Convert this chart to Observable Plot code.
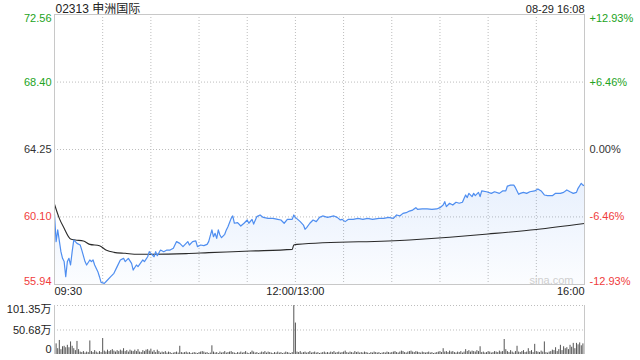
<!DOCTYPE html>
<html><head><meta charset="utf-8">
<script src="https://cdn.jsdelivr.net/npm/d3@7"></script>
<script src="https://cdn.jsdelivr.net/npm/@observablehq/plot@0.6"></script>
<style>
html,body{margin:0;padding:0;background:#fff;}
#wrap{position:relative;width:640px;height:360px;overflow:hidden;}
#wrap svg{position:absolute;left:0;}
</style></head><body><div id="wrap"></div>
<script>
const stockTitle = "02313 申洲国际";
const stamp = "08-29 16:08";
const prevClose = 64.25;
const priceTicks = [72.56, 68.40, 64.25, 60.10, 55.94];
const pctLabels = ["+12.93%", "+6.46%", "0.00%", "-6.46%", "-12.93%"];
const gridTimes = [30, 60, 90, 120, 150, 180, 210, 240, 270, 300];
const timeTicks = [0, 150, 330];
const timeLabels = ["09:30", "12:00/13:00", "16:00"];
const volTicks = [101.35, 50.68, 0];
const volLabels = ["101.35万", "50.68万", "0"];

// minutes since 09:30 (trading minutes; 150 = 12:00/13:00, 330 = 16:00)
const priceT = [0,1,2,4,5,6,7,8,9,10,11,12,13,14,16,17,19,20,22,23,24,25,27,28,29,31,32,35,37,39,41,43,44,46,48,49,51,52,55,56,58,59,60,62,63,64,66,68,70,72,74,76,78,80,83,84,86,88,89,91,93,95,96,98,99,100,101,102,103,104,106,107,108,110,111,112,114,116,118,120,121,123,124,126,128,130,133,136,139,141,143,145,148,149,150,
153,155,156,157,159,161,163,165,167,170,174,176,178,179,181,183,186,189,192,195,198,202,205,208,211,213,215,217,219,221,223,225,226,229,232,235,238,240,242,243,244,246,248,250,252,254,255,256,257,258,260,261,262,264,265,266,269,272,274,277,279,281,282,284,286,287,289,290,292,294,296,299,301,303,305,307,310,312,315,317,319,321,323,325,326,328,329,330];
const priceV = [60.26,58.58,59.30,57.96,57.55,57.35,56.42,57.35,57.55,57.14,57.96,58.68,58.58,58.47,58.37,58.06,57.35,57.14,57.45,57.35,57.45,57.14,56.73,56.42,56.07,56.01,56.11,56.42,56.63,57.04,57.45,57.55,57.35,57.55,57.24,56.83,57.14,57.04,57.45,57.35,57.65,57.96,57.86,57.65,57.96,57.71,58.06,57.96,58.06,58.06,58.17,58.58,58.47,58.27,58.58,58.37,58.58,58.62,58.27,58.37,58.33,58.41,58.58,59.30,58.88,59.09,58.78,59.30,58.99,58.82,59.03,59.30,59.50,60.01,60.16,59.71,59.75,59.54,59.71,59.91,59.71,59.95,59.66,60.12,60.22,60.07,60.01,60.01,59.95,59.91,59.71,59.95,59.95,60.22,60.07,
59.81,59.60,59.34,59.44,59.71,59.91,59.81,60.07,60.16,60.07,60.16,60.07,59.91,59.95,59.81,59.95,59.95,60.01,59.95,60.01,59.95,60.01,60.01,60.07,60.01,60.22,60.16,60.32,60.36,60.46,60.52,60.67,60.57,60.59,60.59,60.57,60.59,60.67,60.83,61.04,60.73,60.94,60.83,61.00,60.94,61.00,61.24,61.45,61.29,61.55,61.35,61.55,61.41,61.61,61.35,61.70,61.65,61.55,61.65,61.55,61.70,61.70,62.00,62.06,62.06,61.90,61.49,61.55,61.61,61.55,61.65,61.70,61.82,61.70,61.45,61.41,61.41,61.55,61.55,61.61,61.76,61.65,61.55,61.61,61.86,62.17,62.06,62.02];

const avgT = [0,3,6,10,13,18,22,28,32,37,44,52,61,82,96,111,122,148,149,151,221,246,270,300,330];
const avgV = [60.88,60.01,59.40,58.74,58.68,58.62,58.41,58.33,58.06,57.92,57.86,57.80,57.80,57.84,57.90,57.96,58.00,58.10,58.37,58.41,58.68,58.85,59.05,59.33,59.70];

// volume per minute (万股), index = minute
const volumes = [
60,22,12,29,10,16,17,14,19,14,
26,17,12,8,27,10,5,4,6,3,
5,4,28,6,4,8,5,3,6,4,
33,7,5,9,6,8,10,7,5,8,
6,9,7,12,6,8,5,9,7,6,
9,6,10,5,4,8,6,9,10,7,
11,5,8,4,9,6,3,5,4,6,
3,5,4,2,3,4,5,3,17,4,
3,4,5,3,4,2,3,4,3,2,
4,5,6,5,3,4,2,3,18,5,
3,4,2,5,3,4,6,3,4,5,
6,4,3,2,4,3,5,3,4,6,
3,2,4,7,5,3,4,2,3,5,
4,6,3,5,4,3,2,4,3,5,
3,4,2,3,5,4,3,2,4,101,
65,
5,4,6,3,4,5,3,4,6,3,
4,5,3,4,2,3,4,5,3,4,
3,5,4,6,3,4,5,3,4,5,
7,4,3,5,4,3,6,4,5,3,
4,3,5,4,3,2,4,3,5,4,
3,4,2,3,4,3,5,4,3,4,
5,6,4,3,5,7,6,4,3,5,
6,7,5,4,6,5,4,3,5,4,
3,4,5,3,4,2,3,4,5,6,
4,12,5,6,4,7,5,6,4,3,
5,4,6,3,5,10,6,8,5,7,
6,5,8,6,16,4,5,3,4,6,
5,3,4,6,5,4,7,5,6,31,
10,6,4,8,5,3,6,17,5,4,
6,8,4,5,12,6,8,4,21,6,
5,4,7,5,26,4,3,5,6,9,
8,14,6,10,19,8,16,12,14,10,
19,15,23,12,23,20,24,18,22,70
];

const W = 640, ML = 54, MR = 56;
const FONT = "'Liberation Sans', Arial, 'Noto Sans CJK SC', sans-serif";
const green = "#22a322", red = "#f03c3c", dark = "#333333";
const gridStroke = "#bdbdbd", frameStroke = "#c8c8c8";
const tickColor = v => v > prevClose ? green : v < prevClose ? red : dark;

const price = priceT.map((t, i) => ({t, p: priceV[i]}));
const avg = avgT.map((t, i) => ({t, p: avgV[i]}));
const vols = volumes.map((v, t) => ({t, v}));
const yDom = [priceTicks[4], priceTicks[0]];
const anchorFor = (i, n) => i === 0 ? "top" : i === n - 1 ? "bottom" : "middle";

const priceMarks = [
  Plot.ruleY(priceTicks.slice(1, 4), {stroke: gridStroke, strokeDasharray: "1,2"}),
  Plot.ruleX(gridTimes, {stroke: gridStroke, strokeDasharray: "1,2"}),
  Plot.areaY(price, {x: "t", y1: yDom[0], y2: "p", fill: "url(#pgrad)"}),
  Plot.line(avg, {x: "t", y: "p", stroke: "#2a2a2a", strokeWidth: 1.1, curve: "monotone-x"}),
  Plot.line(price, {x: "t", y: "p", stroke: "#4f8ef0", strokeWidth: 1.2}),
  Plot.frame({stroke: frameStroke}),
  Plot.text(["sina.com"], {text: d => d, frameAnchor: "bottom-right", dx: -11, dy: -1, textAnchor: "end", lineAnchor: "bottom", fill: "#cfcfcf", fontSize: 11}),
  Plot.text([stockTitle], {text: d => d, frameAnchor: "top-left", dx: 1, dy: -2, textAnchor: "start", lineAnchor: "bottom", fill: "#222", fontSize: 12}),
  Plot.text([stamp], {text: d => d, frameAnchor: "top-right", dy: -2, textAnchor: "end", lineAnchor: "bottom", fill: "#222", fontSize: 11}),
  ...priceTicks.map((v, i) => Plot.text([v], {y: d => d, text: d => d.toFixed(2), frameAnchor: "left", dx: -3, textAnchor: "end", lineAnchor: anchorFor(i, priceTicks.length), fill: tickColor(v), fontSize: 11})),
  ...priceTicks.map((v, i) => Plot.text([v], {y: d => d, text: () => pctLabels[i], frameAnchor: "right", dx: 5, textAnchor: "start", lineAnchor: anchorFor(i, priceTicks.length), fill: tickColor(v), fontSize: 11})),
  ...timeTicks.map((t, i) => Plot.text([t], {x: d => d, text: () => timeLabels[i], frameAnchor: "bottom", dy: 3, lineAnchor: "top", textAnchor: i === 0 ? "start" : i === timeTicks.length - 1 ? "end" : "middle", fill: "#222", fontSize: 11}))
];

const pricePlot = Plot.plot({
  width: W, height: 300,
  marginLeft: ML, marginRight: MR, marginTop: 14, marginBottom: 16,
  x: {domain: [0, 330], axis: null},
  y: {domain: yDom, axis: null},
  style: {fontFamily: FONT, background: "transparent", overflow: "visible"},
  marks: priceMarks
});
const defs = document.createElementNS("http://www.w3.org/2000/svg", "defs");
defs.innerHTML = '<linearGradient id="pgrad" x1="0" y1="0" x2="0" y2="1"><stop offset="0" stop-color="#4f8ef0" stop-opacity="0.13"/><stop offset="1" stop-color="#4f8ef0" stop-opacity="0.02"/></linearGradient>';
pricePlot.insertBefore(defs, pricePlot.firstChild);
pricePlot.style.top = "0px";

const volPlot = Plot.plot({
  width: W, height: 60,
  marginLeft: ML, marginRight: MR, marginTop: 5, marginBottom: 6,
  x: {domain: [0, 330], axis: null},
  y: {domain: [0, volTicks[0]], axis: null},
  style: {fontFamily: FONT, background: "transparent", overflow: "visible"},
  marks: [
    Plot.ruleY(volTicks.slice(0, 2), {stroke: gridStroke, strokeDasharray: "1,2"}),
    Plot.ruleX(vols, {x: "t", y1: 0, y2: "v", stroke: "#555", strokeWidth: 1}),
    Plot.ruleX([0, 330], {stroke: frameStroke}),
    ...volTicks.map((v, i) => Plot.text([v], {y: d => d, text: () => volLabels[i], frameAnchor: "left", dx: -3, dy: i === volTicks.length - 1 ? -2 : 0, textAnchor: "end", lineAnchor: anchorFor(i, volTicks.length), fill: "#222", fontSize: 11}))
  ]
});
volPlot.style.top = "300px";

const wrap = document.getElementById("wrap");
wrap.appendChild(pricePlot);
wrap.appendChild(volPlot);
</script></body></html>
